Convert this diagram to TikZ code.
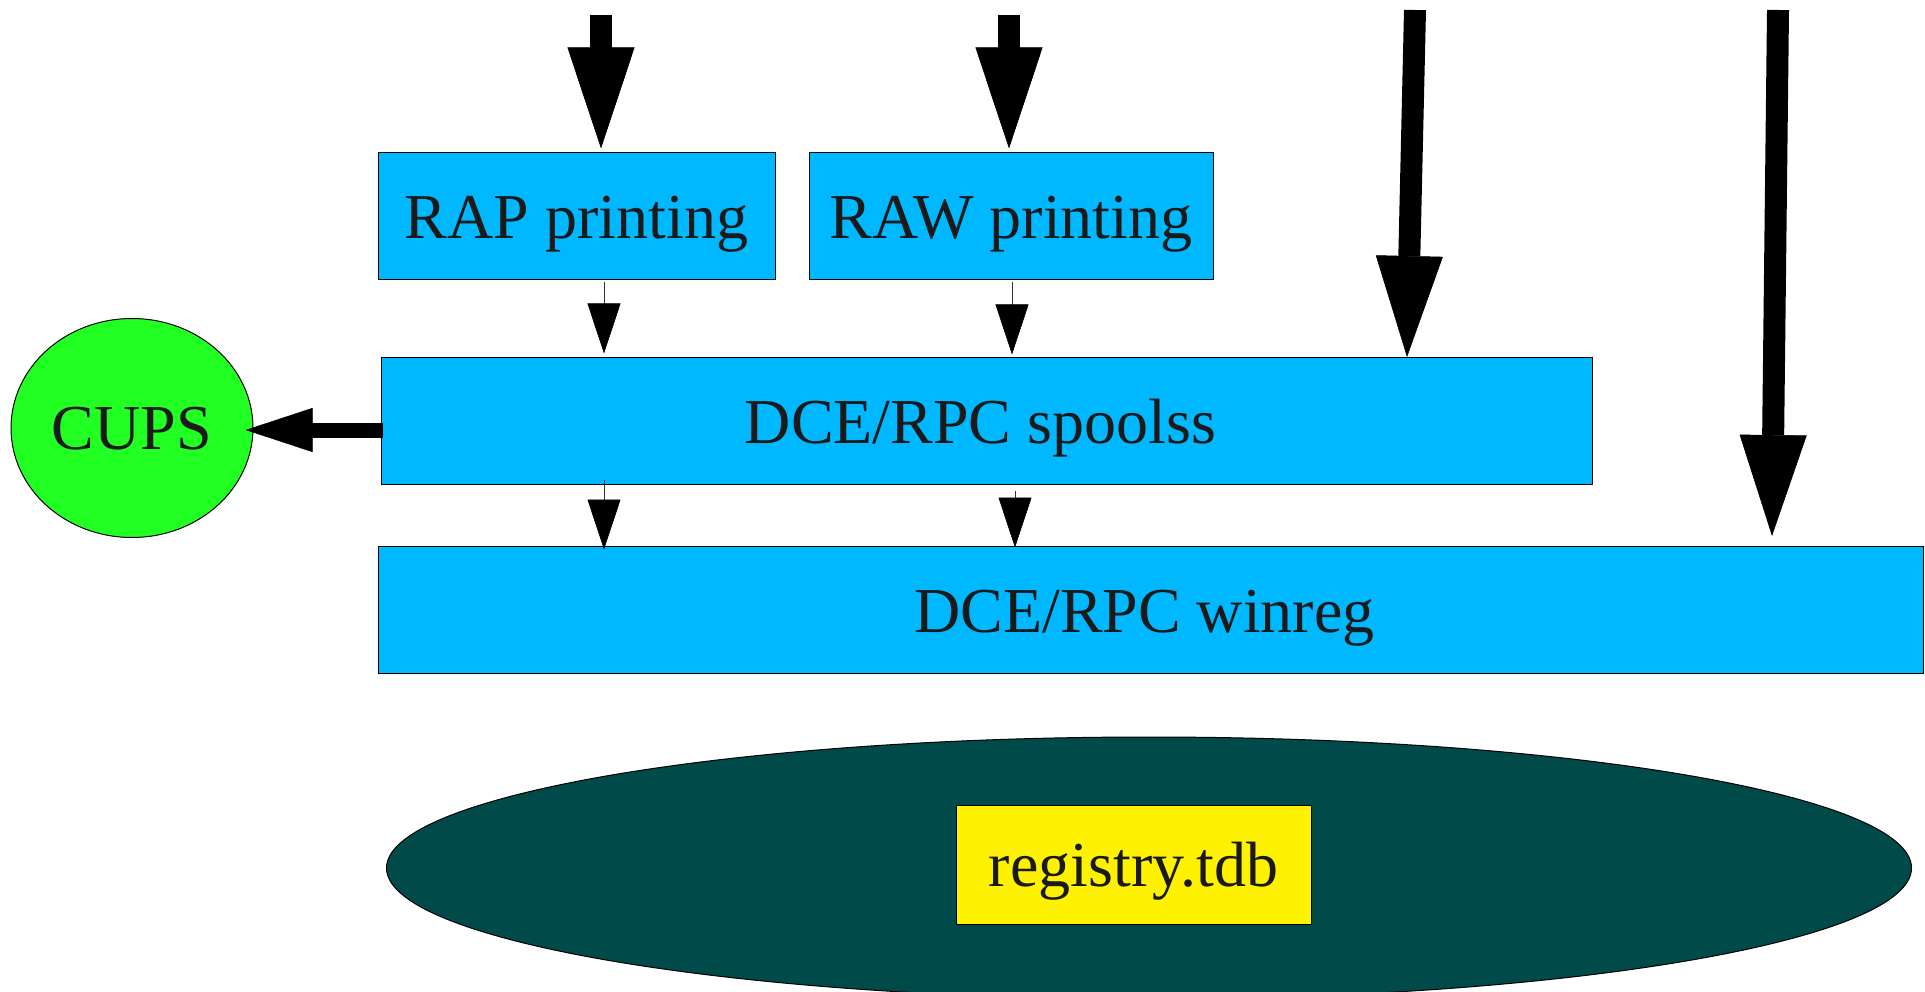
\documentclass[tikz,border=0pt]{standalone}
\usepackage{fontspec}
\setmainfont{Liberation Serif}
\usetikzlibrary{arrows.meta,shapes.geometric}
\definecolor{boxblue}{RGB}{0,184,255}
\definecolor{cupsgreen}{RGB}{34,255,34}
\definecolor{dbteal}{RGB}{0,74,74}
\definecolor{txt}{RGB}{26,26,26}
\begin{document}
\begin{tikzpicture}[x=1pt,y=-1pt,
  font=\fontsize{64}{72}\selectfont,
  blk/.style={draw=black, line width=1pt, fill=boxblue, minimum height=127pt,
    inner sep=0pt, text height=45pt, text depth=0pt, text=txt},
  fat/.style={line width=22pt, -{Triangle[length=101pt,width=67pt,line width=0.5pt]}},
  thinarr/.style={draw=black!80, line width=1pt,
    -{Triangle[length=50pt,width=33pt,line width=0.5pt,color=black,fill=black]}},
  cupsarr/.style={line width=15pt, -{Triangle[length=67pt,width=44pt,line width=0.5pt]}}]
\useasboundingbox (0,0) rectangle (1925,992);

% registry ellipse and file
\node[ellipse, draw=black, line width=1pt, fill=dbteal, minimum width=1525pt,
  minimum height=262pt, inner sep=0pt] (db) at (1149,868) {};
\node[draw=black, line width=1pt, fill=yellow, minimum width=355pt, minimum height=119pt,
  inner sep=0pt, text height=43pt, text depth=0pt, text=txt] (reg) at (1133.5,864.5) {registry.tdb};

% boxes
\node[blk, minimum width=397pt] (RAP) at (576.5,216.5) {RAP printing};
\node[blk, minimum width=404pt] (RAW) at (1011,216.5) {RAW printing};
\node[blk, minimum width=1211pt] (spoolss) at (986.5,420.5) {\hspace*{-12pt}DCE/RPC spoolss};
\node[blk, minimum width=1545pt] (winreg) at (1150.5,609.5) {\hspace*{-12pt}DCE/RPC winreg};
\node[ellipse, draw=black, line width=1pt, fill=cupsgreen, minimum width=242pt,
  minimum height=219pt, inner sep=0pt, text height=42pt, text depth=0pt, text=txt] (CUPS) at (132,428) {CUPS};

% fat incoming arrows
\coordinate (a1s) at (601,15);
\coordinate (a2s) at (1009,15);
\coordinate (a3s) at (1415,10);
\coordinate (a3e) at (1407,357);
\coordinate (a4s) at (1778,10);
\coordinate (a4e) at (1772,536);
\draw[fat, shorten >=4pt] (a1s) -- (a1s |- RAP.north);
\draw[fat, shorten >=4pt] (a2s) -- (a2s |- RAW.north);
\draw[fat] (a3s) -- (a3e);
\draw[fat] (a4s) -- (a4e);

% thin arrows
\coordinate (c1) at (604,0);
\coordinate (c2) at (1012,0);
\coordinate (c3) at (1015,0);
\draw[thinarr, shorten <=2pt, shorten >=3pt] (c1 |- RAP.south) -- (c1 |- spoolss.north);
\draw[thinarr, shorten <=2pt, shorten >=2pt] (c2 |- RAW.south) -- (c2 |- spoolss.north);
\draw[thinarr, shorten <=-5pt, shorten >=-4pt] (c1 |- spoolss.south) -- (c1 |- winreg.north);
\draw[thinarr, shorten <=6pt, shorten >=-2pt] (c3 |- spoolss.south) -- (c3 |- winreg.north);

% spoolss -> CUPS
\coordinate (cy) at (0,430);
\draw[cupsarr, shorten <=-2pt, shorten >=-8pt] (spoolss.west |- cy) -- (CUPS.east |- cy);
\end{tikzpicture}
\end{document}
